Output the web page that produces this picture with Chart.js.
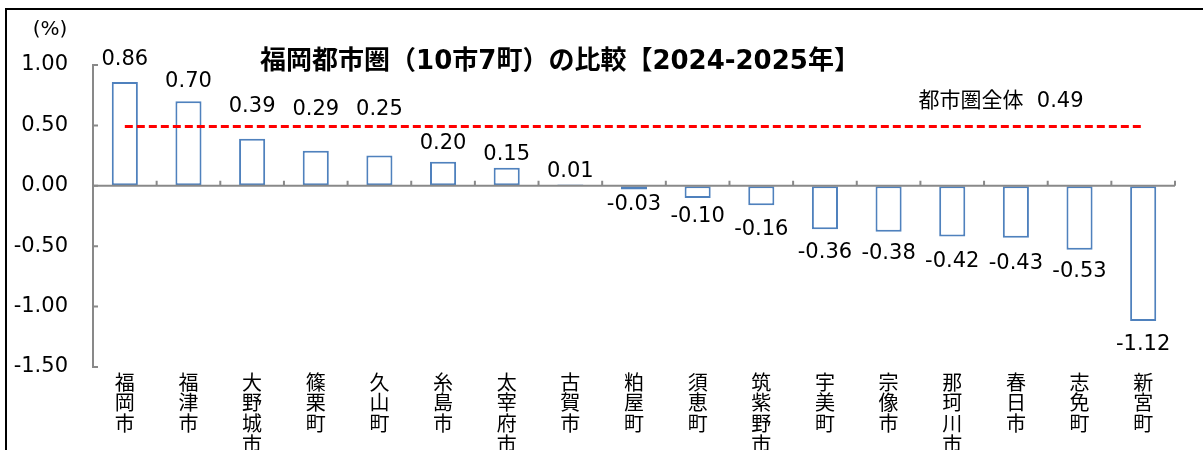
<!DOCTYPE html>
<html lang="ja">
<head>
<meta charset="utf-8">
<title>福岡都市圏の比較</title>
<script src="https://cdn.jsdelivr.net/npm/chart.js@4/dist/chart.umd.min.js"></script>
<style>
    html, body {
        margin: 0;
        padding: 0;
        background: #fff;
        width: 1203px;
        height: 450px;
        overflow: hidden;
    }
    #frame {
        position: absolute;
        left: 5px;
        top: 8px;
        width: 1300px;
        height: 600px;
        border-left: 2px solid #000;
        border-top: 2px solid #000;
    }
    #chart {
        position: absolute;
        left: 0;
        top: 0;
    }
</style>
</head>
<body>
<div id="frame"></div>
<canvas id="chart" width="1203" height="460"></canvas>
<script>
const categories = ['福岡市', '福津市', '大野城市', '篠栗町', '久山町', '糸島市', '太宰府市', '古賀市', '粕屋町',
    '須恵町', '筑紫野市', '宇美町', '宗像市', '那珂川市', '春日市', '志免町', '新宮町'];
const changeRates = [0.86, 0.70, 0.39, 0.29, 0.25, 0.20, 0.15, 0.01, -0.03,
    -0.10, -0.16, -0.36, -0.38, -0.42, -0.43, -0.53, -1.12];
const regionTotal = 0.49;
const yTicks = [1.0, 0.5, 0.0, -0.5, -1.0, -1.5];

// latin digits in DejaVu (wide, like the original), kanji fall back to Noto CJK
const FONT = "'DejaVu Sans', 'Noto Sans CJK JP', sans-serif";
const CJK_FONT = "'Noto Sans CJK JP', sans-serif";
const AXIS_GRAY = '#898989';

// Excel-style axis bits: zero line, inner ticks, value labels, free texts
const excelBits = {
    id: 'excelBits',
    afterDatasetsDraw(chart, args, opts) {
        const { ctx, chartArea } = chart;
        const x = chart.scales.x;
        const y = chart.scales.y;
        const y0 = y.getPixelForValue(0);

        ctx.save();
        ctx.strokeStyle = AXIS_GRAY;
        ctx.lineWidth = 2;

        // category axis at zero
        ctx.beginPath();
        ctx.moveTo(chartArea.left, y0);
        ctx.lineTo(chartArea.right, y0);
        ctx.stroke();

        // tick marks between categories, pointing up
        ctx.beginPath();
        for (let i = 1; i <= categories.length; i++) {
            const bx = i < categories.length
                ? (x.getPixelForValue(i - 1) + x.getPixelForValue(i)) / 2
                : chartArea.right;
            ctx.moveTo(bx, y0);
            ctx.lineTo(bx, y0 - 5);
        }
        ctx.stroke();

        // value axis ticks, pointing right
        ctx.beginPath();
        yTicks.forEach(v => {
            const ty = y.getPixelForValue(v);
            ctx.moveTo(chartArea.left, ty);
            ctx.lineTo(chartArea.left + 5, ty);
        });
        ctx.stroke();

        // value labels
        const meta = chart.getDatasetMeta(0);
        ctx.fillStyle = '#000';
        ctx.font = `21px ${FONT}`;
        ctx.textAlign = 'center';
        ctx.textBaseline = 'middle';
        meta.data.forEach((bar, i) => {
            const v = changeRates[i];
            const gap = opts.labelGap[i];
            const ly = v >= 0 ? bar.y - gap : bar.y + gap;
            ctx.fillText(v.toFixed(2), bar.x, ly);
        });

        // title, unit and region total note
        ctx.font = `bold 26px ${FONT}`;
        ctx.fillText('福岡都市圏（10市7町）の比較【2024-2025年】', 560, 62);

        ctx.font = `20px ${FONT}`;
        ctx.fillText('(%)', 50, 30);
        ctx.font = `21px ${FONT}`;
        ctx.fillText(`都市圏全体  ${regionTotal.toFixed(2)}`, 1001, 102);
        ctx.restore();
    }
};

new Chart(document.getElementById('chart'), {
    type: 'bar',
    data: {
        labels: categories,
        datasets: [{
            data: changeRates,
            backgroundColor: '#ffffff',
            borderColor: '#4F81BD',
            borderWidth: 2,
            borderSkipped: false,
            barPercentage: 0.41,
            categoryPercentage: 1,
            order: 1
        }, {
            type: 'line',
            data: categories.map(() => regionTotal),
            borderColor: '#ff0000',
            borderWidth: 3,
            borderDash: [8, 4],
            pointRadius: 0,
            fill: false,
            order: 0
        }]
    },
    options: {
        responsive: false,
        animation: false,
        devicePixelRatio: 1,
        layout: {
            padding: { top: 65, left: 5, right: 28, bottom: 3 }
        },
        scales: {
            x: {
                grid: { display: false, drawTicks: false },
                border: { display: false },
                afterFit(scale) { scale.height = 90; },
                ticks: {
                    autoSkip: false,
                    maxRotation: 0,
                    minRotation: 0,
                    padding: 5,
                    color: '#000',
                    font: { family: CJK_FONT, size: 20, lineHeight: 1.03 },
                    callback: (value, index) => categories[index].split('')
                }
            },
            y: {
                min: -1.5,
                max: 1.0,
                afterBuildTicks(scale) {
                    scale.ticks = yTicks.map(v => ({ value: v }));
                },
                afterFit(scale) { scale.width = 88; },
                grid: { drawOnChartArea: false, drawTicks: false },
                border: { display: true, color: AXIS_GRAY, width: 2 },
                ticks: {
                    padding: 25,
                    color: '#000',
                    font: { family: FONT, size: 21 },
                    callback: v => v.toFixed(2)
                }
            }
        },
        plugins: {
            legend: { display: false },
            tooltip: { enabled: false },
            excelBits: {
                labelGap: [22, 20, 32, 41, 46, 18, 13, 13, 15, 19, 24, 23, 22, 25, 26, 22, 23]
            }
        }
    },
    plugins: [excelBits]
});
</script>
</body>
</html>
